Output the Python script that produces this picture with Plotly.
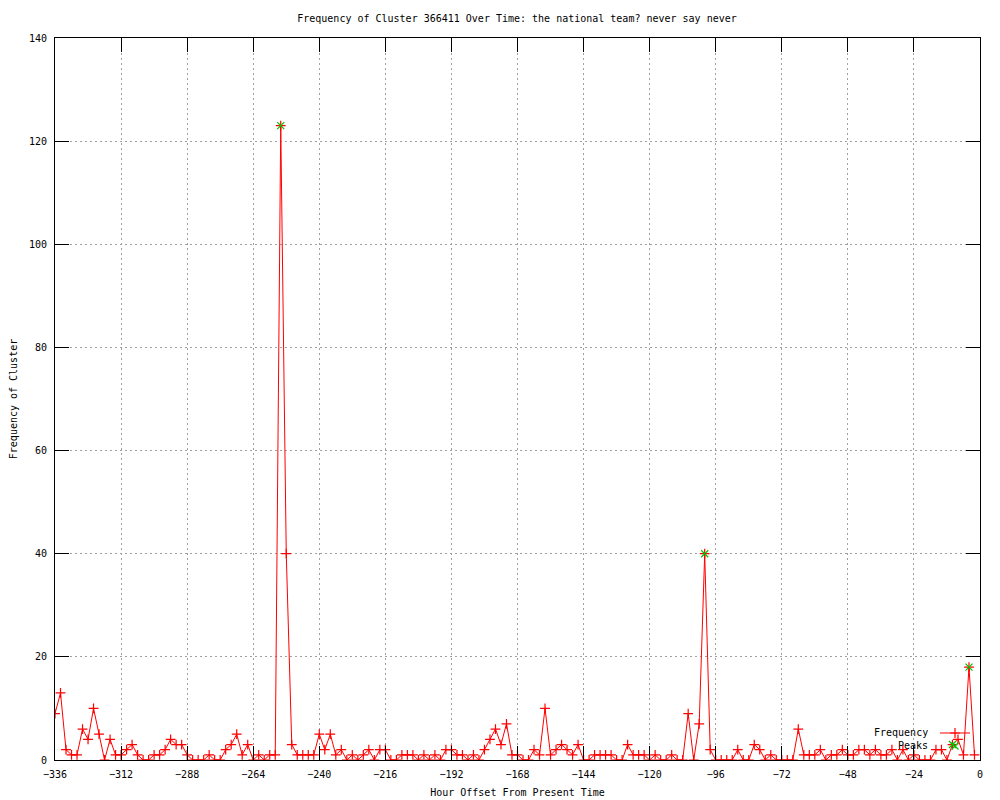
import plotly.graph_objects as go

hours = list(range(-336, 0, 2))
frequency = [
    9, 13, 2, 1, 1, 6, 4, 10, 5, 0, 4, 1,          # -336 .. -314
    1, 2, 3, 1, 0, 0, 1, 1, 2, 4, 3, 3,            # -312 .. -290
    1, 0, 0, 0, 1, 0, 0, 2, 3, 5, 1, 3,            # -288 .. -266
    0, 1, 0, 1, 1, 123, 40, 3, 1, 1, 1, 1,         # -264 .. -242
    5, 2, 5, 1, 2, 0, 1, 0, 1, 2, 0, 2,            # -240 .. -218
    2, 0, 0, 1, 1, 1, 0, 1, 0, 1, 0, 2,            # -216 .. -194
    2, 1, 1, 0, 1, 0, 2, 4, 6, 3, 7, 1,            # -192 .. -170
    1, 0, 0, 2, 1, 10, 1, 2, 3, 2, 1, 3,           # -168 .. -146
    0, 0, 1, 1, 1, 1, 0, 0, 3, 1, 1, 1,            # -144 .. -122
    0, 1, 0, 0, 1, 0, 0, 9, 0, 7, 40, 2,           # -120 .. -98
    0, 0, 0, 0, 2, 0, 0, 3, 2, 0, 1, 0,            # -96 .. -74
    0, 0, 0, 6, 1, 1, 1, 2, 0, 1, 1, 2,            # -72 .. -50
    1, 1, 2, 2, 1, 2, 1, 1, 2, 0, 2, 0,            # -48 .. -26
    1, 0, 0, 0, 2, 2, 0, 3, 4, 1, 18, 1,           # -24 .. -2
]
peak_hours = [-254, -100, -10, -4]
peak_values = [123, 40, 3, 18]
series_names = ["Frequency", "Peaks"]

x_ticks = list(range(-336, 1, 24))
y_ticks = list(range(0, 141, 20))

FONT = "DejaVu Sans Mono"
FS = 10

fig = go.Figure()
fig.add_trace(go.Scatter(
    x=hours, y=frequency, mode="lines+markers", name="", legend="legend",
    line=dict(color="#ff0000", width=1),
    marker=dict(symbol="cross-thin", size=7, line=dict(color="#ff0000", width=1.2), color="#ff0000"),
))
fig.add_trace(go.Scatter(
    x=peak_hours, y=peak_values, mode="markers", name="", legend="legend2",
    marker=dict(symbol="x-thin", size=7, line=dict(color="#00c000", width=1.2), color="#00c000"),
))

# legend labels, gnuplot style (text to the left of the sample)
legend_label_y = [0.0374, 0.0194]
for name, ly in zip(series_names, legend_label_y):
    fig.add_annotation(text=name, xref="paper", yref="paper", x=0.946, y=ly,
                       xanchor="right", yanchor="middle", showarrow=False,
                       font=dict(family=FONT, size=FS, color="black"))

axis_common = dict(
    showline=True, linecolor="black", linewidth=1, mirror="ticks",
    ticks="inside", ticklen=14, tickcolor="black", tickwidth=1,
    showgrid=True, gridcolor="#a0a0a0", griddash="2px,3px", gridwidth=1,
    zeroline=False, automargin=False,
    tickfont=dict(family=FONT, size=FS, color="black"),
)

legend_common = dict(x=1.0, xanchor="right", yanchor="middle",
                     bgcolor="rgba(0,0,0,0)", font=dict(family=FONT, size=5, color="black"),
                     itemwidth=30)

fig.update_layout(
    width=1000, height=800,
    paper_bgcolor="white", plot_bgcolor="white",
    margin=dict(l=47, r=28, t=30, b=48),
    title=dict(text="Frequency of Cluster 366411 Over Time: the national team? never say never",
               xref="container", x=0.509, xanchor="center",
               yref="container", y=0.9875, yanchor="middle",
               font=dict(family=FONT, size=FS, color="black"), automargin=False),
    xaxis=dict(range=[-336, 0], tickvals=x_ticks, ticklabelstandoff=5,
               title=dict(text="Hour Offset From Present Time",
                          font=dict(family=FONT, size=FS, color="black"), standoff=9),
               **axis_common),
    yaxis=dict(range=[0, 140], tickvals=y_ticks, ticklabelstandoff=5,
               title=dict(text="Frequency of Cluster",
                          font=dict(family=FONT, size=FS, color="black"), standoff=12),
               **axis_common),
    legend=dict(y=legend_label_y[0], **legend_common),
    legend2=dict(y=legend_label_y[1], **legend_common),
    showlegend=True,
)

fig.write_html("out.html")
